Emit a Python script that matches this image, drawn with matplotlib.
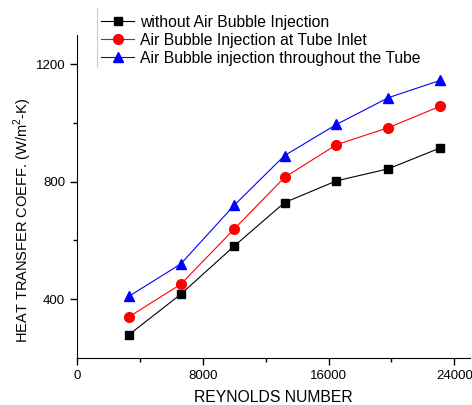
import matplotlib.pyplot as plt
from matplotlib.lines import Line2D

# -----------------------------
# Data
# -----------------------------
reynolds = [3300, 6600, 10000, 13200, 16500, 19800, 23100]
htc_no_air = [279, 417, 581, 729, 803, 844, 915]
htc_inlet = [340, 451, 639, 815, 926, 984, 1057]
htc_throughout = [410, 520, 720, 889, 995, 1086, 1145]

labels = [
    "without Air Bubble Injection",
    "Air Bubble Injection at Tube Inlet",
    "Air Bubble injection throughout the Tube",
]

plt.rcParams["font.family"] = ["Liberation Sans", "DejaVu Sans"]
plt.rcParams["mathtext.fontset"] = "custom"
plt.rcParams["mathtext.rm"] = "Liberation Sans"

fig = plt.figure(figsize=(4.72, 4.05), dpi=100)
ax = fig.add_axes([0.163, 0.116, 0.833, 0.798])

ax.plot(reynolds, htc_no_air, color="black", marker="s", markersize=6,
        linewidth=0.8, label=labels[0])
ax.plot(reynolds, htc_inlet, color="red", marker="o", markersize=7,
        linewidth=0.8, label=labels[1])
ax.plot(reynolds, htc_throughout, color="blue", marker="^", markersize=7.5,
        linewidth=0.8, label=labels[2])

ax.set_xlim(0, 25000)
ax.set_ylim(200, 1300)
ax.set_xticks([0, 8000, 16000, 24000])
ax.set_xticks([4000, 12000, 20000], minor=True)
ax.set_yticks([400, 800, 1200])
ax.set_yticks([600, 1000], minor=True)

ax.spines["top"].set_visible(False)
ax.spines["right"].set_visible(False)
ax.tick_params(axis="both", which="major", direction="out", length=5,
               width=1, labelsize=9.5)
ax.tick_params(axis="both", which="minor", direction="out", length=3, width=1)

ax.set_xlabel("REYNOLDS NUMBER", fontsize=11.3, labelpad=6)
ax.set_ylabel("HEAT TRANSFER COEFF. (W/m$^{2}$-K)", fontsize=10.5)
ax.yaxis.set_label_coords(-0.11, 0.427)

fig.legend(loc="upper left", bbox_to_anchor=(0.188, 0.995), frameon=False,
           fontsize=11.3, handlelength=2.1, labelspacing=0.2,
           handletextpad=0.35, borderpad=0.3)
fig.add_artist(Line2D([0.205, 0.205], [0.835, 0.98], color="#cccccc",
                      linewidth=0.8))

fig.savefig("out.png", dpi=100)
